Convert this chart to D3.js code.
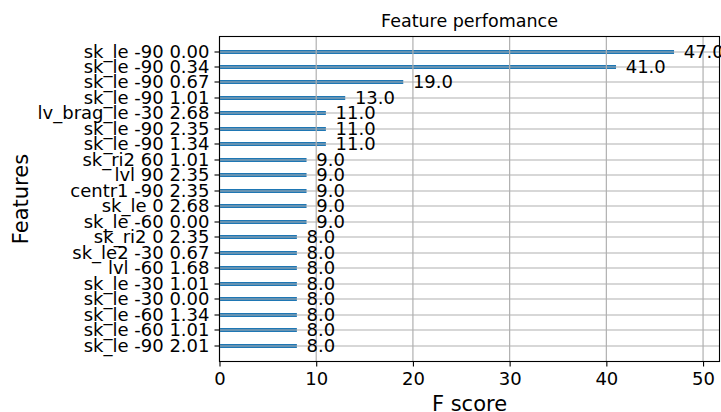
<!DOCTYPE html>
<html>
<head>
<meta charset="utf-8">
<script src="https://cdn.jsdelivr.net/npm/d3@7"></script>
<style>
  body { margin: 0; background: #fff; }
  text { font-family: "DejaVu Sans", sans-serif; fill: #000; }
</style>
</head>
<body>
<div id="chart"></div>
<script>
// features listed top to bottom, as shown
const features = [
    'sk_le -90 0.00', 'sk_le -90 0.34', 'sk_le -90 0.67', 'sk_le -90 1.01',
    'lv_brag_le -30 2.68', 'sk_le -90 2.35', 'sk_le -90 1.34', 'sk_ri2 60 1.01',
    'lvl 90 2.35', 'centr1 -90 2.35', 'sk_le 0 2.68', 'sk_le -60 0.00',
    'sk_ri2 0 2.35', 'sk_le2 -30 0.67', 'lvl -60 1.68', 'sk_le -30 1.01',
    'sk_le -30 0.00', 'sk_le -60 1.34', 'sk_le -60 1.01', 'sk_le -90 2.01'
];
const scores = [47, 41, 19, 13, 11, 11, 11, 9, 9, 9, 9, 9, 8, 8, 8, 8, 8, 8, 8, 8];
const xTicks = [0, 10, 20, 30, 40, 50];

const width = 721, height = 412;
const margin = { top: 36.5, right: 1.5, bottom: 50.5, left: 219.5 };
const innerWidth = width - margin.left - margin.right;
const innerHeight = height - margin.top - margin.bottom;

const svg = d3.select('#chart').append('svg')
    .attr('width', width)
    .attr('height', height);

const n = features.length;
const xScale = d3.scaleLinear()
    .domain([0, d3.max(scores) * 1.1])
    .range([0, innerWidth]);

// index 0 = bottom row, like matplotlib barh
const yScale = d3.scaleLinear()
    .domain([-1.03, n - 1 + 0.97])
    .range([innerHeight, 0]);
// snap rows to the pixel grid so every bar looks the same
const rowPos = i => Math.round(yScale(n - 1 - i) + margin.top) - margin.top;

const chart = svg.append('g')
    .attr('transform', `translate(${margin.left},${margin.top})`);

// bars
chart.selectAll('rect.bar')
    .data(scores)
    .enter().append('rect')
    .attr('class', 'bar')
    .attr('x', xScale(0))
    .attr('y', (d, i) => rowPos(i) - 2)
    .attr('width', d => xScale(d) - xScale(0))
    .attr('height', 4)
    .style('fill', '#1f77b4');

// grid on top of bars
const grid = chart.append('g').attr('class', 'grid')
    .style('stroke', '#b0b0b0').style('stroke-width', 1.2);
grid.selectAll('line.gx')
    .data(xTicks)
    .enter().append('line')
    .attr('x1', d => xScale(d)).attr('x2', d => xScale(d))
    .attr('y1', 0).attr('y2', innerHeight);
grid.selectAll('line.gy')
    .data(features)
    .enter().append('line')
    .attr('x1', 0).attr('x2', innerWidth)
    .attr('y1', (d, i) => rowPos(i)).attr('y2', (d, i) => rowPos(i));

// value labels
chart.selectAll('text.value')
    .data(scores)
    .enter().append('text')
    .attr('class', 'value')
    .attr('x', d => xScale(d + 1))
    .attr('y', (d, i) => rowPos(i))
    .attr('dy', '0.36em')
    .style('font-size', '18px')
    .text(d => d.toFixed(1));

// axes
const xAxis = chart.append('g')
    .attr('transform', `translate(0,${innerHeight})`)
    .call(d3.axisBottom(xScale).tickValues(xTicks).tickSize(5).tickPadding(6).tickFormat(d3.format('d')));
xAxis.select('.domain').remove();
xAxis.selectAll('text').style('font-size', '18px').style('font-family', 'DejaVu Sans');
xAxis.selectAll('line').style('stroke-width', 1.1);

const yAxis = chart.append('g')
    .call(d3.axisLeft(yScale).tickValues(d3.range(n)).tickSize(5).tickPadding(5)
        .tickFormat(v => features[n - 1 - v]));
yAxis.select('.domain').remove();
yAxis.selectAll('.tick')
    .attr('transform', v => `translate(0,${rowPos(n - 1 - v)})`);
yAxis.selectAll('text').style('font-size', '18px').style('font-family', 'DejaVu Sans');
yAxis.selectAll('line').style('stroke-width', 1.1);

// frame
chart.append('rect')
    .attr('x', 0).attr('y', 0)
    .attr('width', innerWidth).attr('height', innerHeight)
    .style('fill', 'none').style('stroke', '#000').style('stroke-width', 1.1);

// titles
svg.append('text')
    .attr('x', margin.left + innerWidth / 2)
    .attr('y', 27)
    .attr('text-anchor', 'middle')
    .style('font-size', '17.5px')
    .text('Feature perfomance');

svg.append('text')
    .attr('x', margin.left + innerWidth / 2)
    .attr('y', 411)
    .attr('text-anchor', 'middle')
    .style('font-size', '21px')
    .text('F score');

svg.append('text')
    .attr('transform', `translate(28,${margin.top + innerHeight / 2}) rotate(-90)`)
    .attr('text-anchor', 'middle')
    .style('font-size', '21px')
    .text('Features');
</script>
</body>
</html>
